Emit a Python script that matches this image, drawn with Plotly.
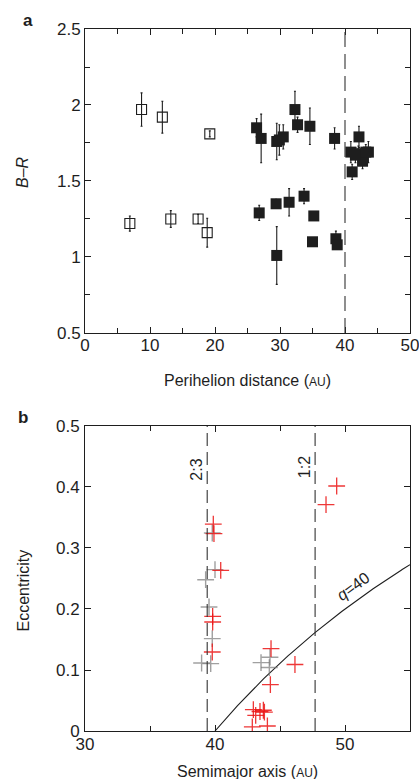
import numpy as np
import plotly.graph_objects as go

# ---------------- Panel a data ----------------
open_q = [6.9, 8.7, 11.9, 13.2, 17.4, 19.2, 18.8]
open_br = [1.22, 1.97, 1.92, 1.25, 1.25, 1.81, 1.16]
open_err = [0.05, 0.11, 0.105, 0.055, 0.03, 0.02, 0.095]

fill_q = [26.4, 27.1, 26.8, 29.5, 29.9, 30.5, 29.4, 29.5, 32.3, 32.7, 31.4,
          34.6, 33.7, 35.2, 35.0, 38.4, 38.6, 38.8, 40.9, 42.15, 41.1, 42.05,
          42.7, 43.6, 43.2, 41.6]
fill_br = [1.85, 1.78, 1.29, 1.76, 1.77, 1.79, 1.35, 1.01, 1.97, 1.87, 1.36,
           1.86, 1.40, 1.27, 1.10, 1.78, 1.12, 1.08, 1.69, 1.79, 1.56, 1.68,
           1.63, 1.69, 1.69, 1.67]
fill_err = [0.06, 0.16, 0.05, 0.12, 0.10, 0.08, 0.03, 0.19, 0.12, 0.05, 0.09,
            0.12, 0.05, 0.02, 0.02, 0.07, 0.05, 0.02, 0.07, 0.07, 0.05, 0.05,
            0.05, 0.07, 0.05, 0.05]

q_line_a = 40

# ---------------- Panel b data ----------------
red_a = [39.87, 39.92, 40.44, 39.82, 39.82, 39.79, 48.54, 49.36, 44.31, 46.15,
         44.26, 42.95, 43.13, 43.46, 43.72, 43.80, 42.87, 44.03]
red_e = [0.339, 0.3236, 0.2634, 0.188, 0.1787, 0.1295, 0.371, 0.4016, 0.135,
         0.109, 0.076, 0.035, 0.0257, 0.032, 0.034, 0.031, 0.0066, 0.0082]

gray_a = [39.79, 40.0, 39.28, 39.54, 39.79, 38.97, 39.67, 43.54, 44.23, 44.18]
gray_e = [0.3246, 0.2646, 0.248, 0.2033, 0.1515, 0.1115, 0.1105, 0.112, 0.121, 0.104]

res_a = [39.4, 47.7]
res_labels = ["2:3", "1:2"]
q_perihelion = 40

FONT = "Liberation Sans, Arial, sans-serif"
INK = "#1e1e1e"

fig = go.Figure()

# Panel a
fig.add_trace(go.Scatter(
    x=open_q, y=open_br, mode="markers",
    marker=dict(symbol="square-open", size=10, color=INK, line=dict(width=1.1, color=INK)),
    error_y=dict(type="data", array=open_err, visible=True, color=INK, thickness=1.1, width=1),
    xaxis="x", yaxis="y", showlegend=False))
fig.add_trace(go.Scatter(
    x=fill_q, y=fill_br, mode="markers",
    marker=dict(symbol="square", size=11, color=INK, line=dict(width=0)),
    error_y=dict(type="data", array=fill_err, visible=True, color=INK, thickness=1.1, width=1),
    xaxis="x", yaxis="y", showlegend=False))

# Panel b curve q=40
a_curve = np.linspace(q_perihelion, 55, 200)
e_curve = 1 - q_perihelion / a_curve
fig.add_trace(go.Scatter(
    x=a_curve, y=e_curve, mode="lines", line=dict(color=INK, width=1.1),
    xaxis="x2", yaxis="y2", showlegend=False, hoverinfo="skip"))

fig.add_trace(go.Scatter(
    x=gray_a, y=gray_e, mode="markers",
    marker=dict(symbol="cross-thin", size=12, line=dict(width=1.4, color="rgba(120,120,120,0.7)")),
    xaxis="x2", yaxis="y2", showlegend=False))
fig.add_trace(go.Scatter(
    x=red_a, y=red_e, mode="markers",
    marker=dict(symbol="cross-thin", size=12, line=dict(width=1.3, color="rgba(235,20,20,0.85)")),
    xaxis="x2", yaxis="y2", showlegend=False))

shapes = [
    dict(type="line", xref="x", yref="y", x0=q_line_a, x1=q_line_a, y0=0.5, y1=2.5,
         line=dict(color="#333", width=1.1, dash="15px,7px")),
]
for ra in res_a:
    shapes.append(dict(type="line", xref="x2", yref="y2", x0=ra, x1=ra, y0=0, y1=0.5,
                       line=dict(color="#333", width=1.1, dash="13px,6px")))

axis_common = dict(
    showline=True, linecolor=INK, linewidth=1, mirror="ticks",
    ticks="inside", ticklen=6, tickwidth=1, tickcolor=INK,
    showgrid=False, zeroline=False, ticklabeloverflow="allow", automargin=False,
    tickfont=dict(family=FONT, size=17, color=INK),
)

fig.update_layout(
    width=419, height=779,
    margin=dict(l=85, r=9, t=29, b=48),
    plot_bgcolor="white", paper_bgcolor="white",
    xaxis=dict(domain=[0, 1], anchor="y", range=[0, 50], dtick=10, tick0=0, ticklabelstandoff=-3,
               minor=dict(dtick=5, ticks="inside", ticklen=5, tickcolor=INK), **axis_common),
    yaxis=dict(domain=[0.567, 1], anchor="x", range=[0.5, 2.5],
               tickvals=[0.5, 1, 1.5, 2, 2.5], ticktext=["0.5", "1", "1.5", "2", "2.5"],
               minor=dict(dtick=0.25, ticks="inside", ticklen=5, tickcolor=INK), **axis_common),
    xaxis2=dict(domain=[0, 1], anchor="y2", range=[30, 55], dtick=10, tick0=30, ticklabelstandoff=-2,
                minor=dict(dtick=5, ticks="inside", ticklen=5, tickcolor=INK), **axis_common),
    yaxis2=dict(domain=[0, 0.4345], anchor="x2", range=[0, 0.5], ticklabelstandoff=1,
                tickvals=[0, 0.1, 0.2, 0.3, 0.4, 0.5], ticktext=["0", "0.1", "0.2", "0.3", "0.4", "0.5"],
                **axis_common),
    shapes=shapes,
)

ann = []
def A(text, x, y, xref="paper", yref="paper", size=16, angle=0, **kw):
    ann.append(dict(text=text, x=x, y=y, xref=xref, yref=yref, showarrow=False,
                    xanchor="center", yanchor="middle",
                    textangle=angle, font=dict(family=FONT, size=size, color=INK), **kw))

A("<b>a</b>", (28 - 85) / 325, (731 - 20) / 702, size=17)
A("<b>b</b>", (23 - 85) / 325, (731 - 417) / 702, size=17)
A("Perihelion distance (<span style='font-size:12px'>AU</span>)", 0.5, (731 - 380) / 702)
A("Semimajor axis (<span style='font-size:12px'>AU</span>)", 0.5, (731 - 771) / 702)
A("<i>B</i>–<i>R</i>", (22 - 85) / 325, (731 - 172) / 702, angle=-90)
A("Eccentricity", (22.5 - 85) / 325, (731 - 591) / 702, angle=-90)
A(res_labels[0], 38.6, 0.428, xref="x2", yref="y2", angle=-90)
A(res_labels[1], 46.9, 0.432, xref="x2", yref="y2", angle=-90)
A("<i>q</i>=40", 50.6, 0.237, xref="x2", yref="y2", angle=-36)
fig.update_layout(annotations=ann)

fig.write_html("out.html", config={"displayModeBar": False},
               post_script="document.body.style.margin='0';document.body.style.padding='0';")
